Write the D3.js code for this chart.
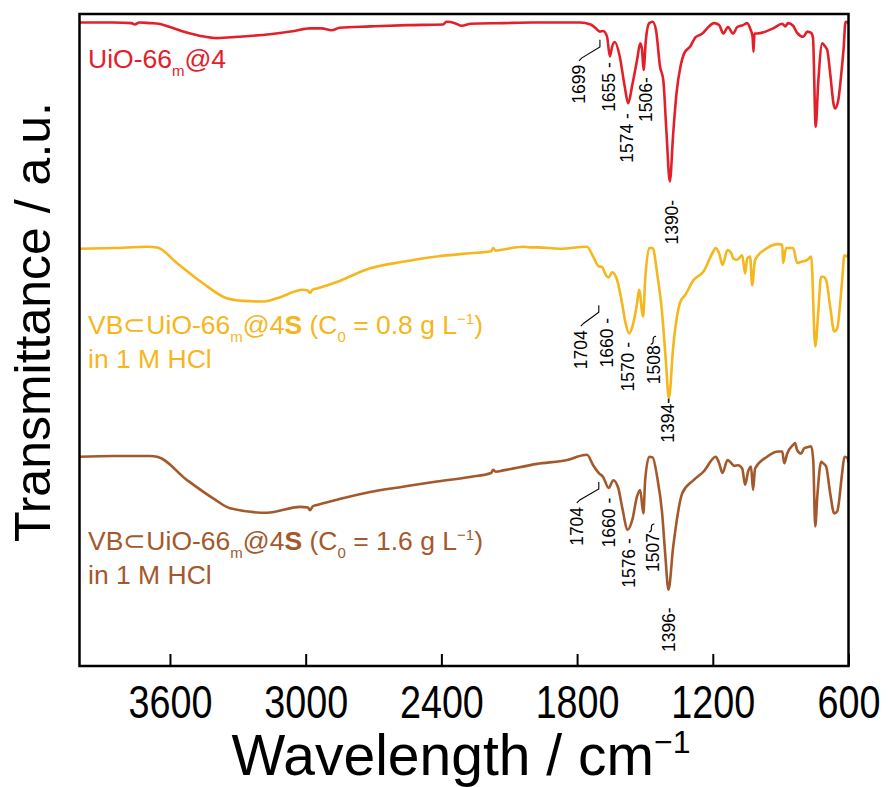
<!DOCTYPE html>
<html>
<head>
<meta charset="utf-8">
<script src="https://cdn.jsdelivr.net/npm/d3@7"></script>
<style>
  html, body { margin: 0; padding: 0; background: #ffffff; }
  svg { display: block; }
</style>
</head>
<body>
<svg id="chart" width="888" height="787"></svg>
<script>
// FT-IR spectra, transmittance in arbitrary units (curves stacked with offsets)
// Each entry: [wavenumber / cm-1, transmittance a.u.]
const uio66 = [
  [4000, 98.7], [3850, 98.7], [3770, 98.6], [3755, 98.4], [3735, 98.7], [3688, 98.6],
  [3650, 98.5], [3600, 98.0], [3530, 97.2], [3460, 96.6], [3392, 96.3], [3300, 96.5],
  [3157, 96.9], [3050, 97.4], [2981, 97.8], [2930, 97.8], [2885, 97.5], [2850, 97.9],
  [2715, 98.1], [2550, 98.3], [2392, 98.4], [2378, 98.8], [2340, 98.6], [2310, 98.2],
  [2270, 98.5], [2127, 98.6], [2000, 98.7], [1876, 98.7], [1787, 98.7], [1740, 98.4],
  [1720, 97.9], [1699, 97.3], [1685, 97.4], [1668, 96.6], [1655, 93.5], [1645, 95.0],
  [1633, 95.7], [1612, 93.6], [1590, 89.0], [1574, 86.3], [1556, 89.1], [1535, 92.9],
  [1521, 95.5], [1513, 94.6], [1506, 91.4], [1496, 96.0], [1481, 98.6], [1466, 98.8],
  [1451, 97.5], [1433, 91.9], [1419, 89.9], [1405, 82.0], [1390, 74.3], [1375, 81.7],
  [1360, 88.0], [1343, 91.9], [1326, 94.0], [1300, 95.0], [1277, 96.4], [1246, 97.0],
  [1225, 97.8], [1194, 98.6], [1172, 98.3], [1153, 97.0], [1133, 98.0], [1110, 97.0],
  [1092, 98.0], [1066, 98.3], [1048, 98.6], [1035, 97.8], [1024, 96.5], [1020, 94.2],
  [1016, 97.0], [1004, 97.0], [933, 97.8], [893, 98.5], [880, 98.1], [867, 98.6],
  [845, 98.2], [827, 97.1], [800, 96.5], [782, 97.3], [765, 97.1], [757, 96.3],
  [745, 82.7], [734, 89.4], [716, 95.5], [703, 95.0], [694, 94.5], [681, 90.9],
  [665, 86.0], [659, 85.5], [645, 86.8], [630, 91.5], [622, 94.5], [613, 98.8],
  [604, 98.7], [600, 98.6]
];

const vbLow = [
  [4000, 64.0], [3850, 64.1], [3700, 64.3], [3657, 64.2], [3569, 61.8], [3454, 58.7],
  [3349, 56.4], [3277, 56.0], [3189, 55.9], [3127, 56.4], [3012, 57.7], [2990, 57.6],
  [2981, 57.2], [2970, 57.7], [2950, 57.9], [2862, 58.9], [2715, 61.0], [2570, 62.0],
  [2420, 62.8], [2273, 63.3], [2180, 63.6], [2171, 64.1], [2160, 63.7], [2140, 63.8],
  [2038, 64.3], [2010, 64.2], [1977, 64.2], [1876, 64.0], [1756, 64.3], [1729, 62.8],
  [1704, 61.3], [1690, 61.2], [1672, 59.9], [1660, 59.6], [1645, 60.4], [1623, 59.2],
  [1601, 55.6], [1585, 52.5], [1570, 51.0], [1556, 52.0], [1535, 55.6], [1526, 57.7],
  [1508, 53.6], [1499, 59.2], [1481, 64.1], [1466, 64.1], [1446, 60.2], [1424, 54.1],
  [1408, 47.0], [1394, 41.1], [1375, 49.0], [1343, 55.9], [1322, 56.9], [1285, 59.2],
  [1241, 60.5], [1202, 63.3], [1187, 64.1], [1172, 63.3], [1157, 61.5], [1135, 63.8],
  [1118, 63.3], [1110, 62.5], [1092, 62.3], [1070, 63.0], [1057, 60.2], [1048, 62.5],
  [1035, 62.8], [1026, 58.4], [1013, 62.3], [960, 64.1], [911, 64.7], [893, 64.6],
  [889, 61.8], [876, 64.1], [845, 64.1], [827, 61.8], [809, 62.0], [782, 62.3],
  [765, 62.8], [747, 49.0], [734, 54.1], [721, 59.7], [712, 59.7], [699, 59.2],
  [681, 55.1], [663, 51.3], [650, 51.8], [628, 59.2], [618, 63.0], [604, 62.8],
  [600, 63.3]
];

const vbHigh = [
  [4000, 32.1], [3850, 32.2], [3688, 32.2], [3657, 32.1], [3524, 28.5], [3409, 25.7],
  [3334, 24.2], [3171, 23.5], [3025, 24.4], [2990, 24.3], [2981, 23.9], [2968, 24.5],
  [2950, 24.7], [2862, 25.5], [2715, 26.7], [2570, 27.5], [2420, 28.3], [2273, 29.0],
  [2180, 29.6], [2171, 30.1], [2160, 29.8], [2127, 30.0], [1977, 31.0], [1831, 31.7],
  [1800, 32.1], [1756, 32.4], [1729, 30.8], [1704, 29.6], [1685, 29.0], [1660, 27.3],
  [1640, 28.5], [1618, 27.3], [1601, 24.4], [1576, 20.9], [1556, 22.4], [1535, 26.0],
  [1521, 27.0], [1507, 23.4], [1499, 28.5], [1481, 32.1], [1466, 32.0], [1446, 29.0],
  [1424, 23.4], [1410, 17.0], [1396, 11.7], [1375, 18.3], [1335, 26.5], [1285, 28.5],
  [1241, 29.8], [1187, 32.1], [1172, 31.1], [1157, 29.6], [1135, 31.6], [1118, 31.1],
  [1105, 30.7], [1088, 30.8], [1070, 30.3], [1057, 27.8], [1044, 29.8], [1031, 30.6],
  [1022, 27.0], [1013, 30.3], [960, 32.1], [911, 32.9], [893, 32.9], [884, 31.1],
  [871, 32.6], [845, 33.9], [836, 34.2], [827, 33.1], [809, 32.6], [796, 33.4],
  [778, 33.6], [765, 33.7], [756, 31.6], [747, 21.4], [738, 26.0], [721, 31.3],
  [712, 31.1], [699, 30.6], [681, 26.5], [663, 23.4], [650, 23.7], [628, 29.6],
  [618, 32.1], [604, 31.9], [600, 31.3]
];

const seriesData = [uio66, vbLow, vbHigh];
const seriesColors = ["#e3202a", "#f6b61d", "#a3592b"];

// Assigned band positions (cm-1) for each spectrum
const peaksUio = [1699, 1655, 1574, 1506, 1390];
const peaksLow = [1704, 1660, 1570, 1508, 1394];
const peaksHigh = [1704, 1660, 1576, 1507, 1396];
const peakSets = [peaksUio, peaksLow, peaksHigh];

// Label placement: leader style, text suffix, label top (a.u.), horizontal shift (px)
const labelStyle = ["elbow", "dash", "dash", "dash", "dash"];
const uioSpacer = ["", " -", " -", "-", "-"];
const lowSpacer = ["", " -", " -", "", "-"];
const highSpacer = ["", " -", " -", "", "-"];
const labelTops = [
  [92.2, 92.6, 84.8, 90.3, 71.5],
  [51.5, 53.4, 49.7, 49.2, 41.1],
  [24.4, 25.8, 19.6, 20.4, 9.0]
];
const labelShift = [
  [-21, -1, -2, 2.5, 1.5],
  [-18, -2.5, -1, 11, -1.5],
  [-22, 0, 0.5, 9, 0]
];

const xTicks = [3600, 3000, 2400, 1800, 1200, 600];

const plot = { left: 79.5, right: 848.5, top: 14, bottom: 666 };

const svg = d3.select("#chart");

const x = d3.scaleLinear().domain([4000, 600]).range([plot.left, plot.right]);
const y = d3.scaleLinear().domain([0, 100]).range([plot.bottom, plot.top]);

const sans = "'Liberation Sans', Arial, Helvetica, sans-serif";

// spectra
const line = d3.line().x(d => x(d[0])).y(d => y(d[1])).curve(d3.curveMonotoneX);

svg.append("defs").append("clipPath").attr("id", "plotClip")
  .append("rect")
  .attr("x", plot.left).attr("y", plot.top)
  .attr("width", plot.right - plot.left).attr("height", plot.bottom - plot.top);

svg.append("g").attr("clip-path", "url(#plotClip)")
  .selectAll("path.spec")
  .data(seriesData)
  .join("path")
  .attr("class", "spec")
  .attr("d", line)
  .attr("fill", "none")
  .attr("stroke", (d, i) => seriesColors[i])
  .attr("stroke-width", 2.6)
  .attr("stroke-linejoin", "round")
  .attr("stroke-linecap", "round");

// frame
svg.append("rect")
  .attr("x", plot.left).attr("y", plot.top)
  .attr("width", plot.right - plot.left).attr("height", plot.bottom - plot.top)
  .attr("fill", "none").attr("stroke", "#000").attr("stroke-width", 2.5);

// bottom axis with inward ticks
const xAxis = d3.axisBottom(x)
  .tickValues(xTicks)
  .tickFormat(d3.format("d"))
  .tickSizeInner(-12)
  .tickSizeOuter(0)
  .tickPadding(19);

const gx = svg.append("g")
  .attr("transform", `translate(0,${plot.bottom})`)
  .call(xAxis);
gx.select(".domain").remove();
gx.selectAll(".tick line").attr("stroke", "#000").attr("stroke-width", 2);
// condensed tick numerals
gx.selectAll(".tick text")
  .attr("fill", "#000")
  .attr("transform", "scale(0.82,1)")
  .style("font-family", sans)
  .style("font-size", "46px");

// axis titles
const xTitle = svg.append("text")
  .attr("x", (plot.left + plot.right) / 2 - 3)
  .attr("y", 775)
  .attr("text-anchor", "middle")
  .style("font-family", sans)
  .style("font-size", "57px")
  .attr("fill", "#000");
xTitle.append("tspan").text("Wavelength / cm");
xTitle.append("tspan").attr("dy", -22).style("font-size", "32px").text("\u22121");

svg.append("text")
  .attr("transform", `translate(50,${(plot.top + plot.bottom) / 2 - 18}) rotate(-90)`)
  .attr("text-anchor", "middle")
  .style("font-family", sans)
  .style("font-size", "50px")
  .attr("fill", "#000")
  .text("Transmittance / a.u.");

// series labels
const labelFont = 26.5;
function seriesLabel(g, xPos, yPos, color, conc) {
  const t = g.append("text")
    .attr("x", xPos).attr("y", yPos)
    .attr("fill", color)
    .style("font-family", sans)
    .style("font-size", labelFont + "px");
  if (conc === null) {
    t.append("tspan").text("UiO-66");
    t.append("tspan").attr("dy", 8).style("font-size", "15px").text("m");
    t.append("tspan").attr("dy", -8).text("@4");
  } else {
    t.append("tspan").text("VB\u2282UiO-66");
    t.append("tspan").attr("dy", 8).style("font-size", "15px").text("m");
    t.append("tspan").attr("dy", -8).text("@4");
    t.append("tspan").style("font-weight", "bold").text("S");
    t.append("tspan").text(" (C");
    t.append("tspan").attr("dy", 8).style("font-size", "15px").text("0");
    t.append("tspan").attr("dy", -8).text(` = ${conc} g L`);
    t.append("tspan").attr("dy", -10).style("font-size", "15px").text("\u22121");
    t.append("tspan").attr("dy", 10).text(")");
    g.append("text")
      .attr("x", xPos).attr("y", yPos + 34)
      .attr("fill", color)
      .style("font-family", sans)
      .style("font-size", labelFont + "px")
      .text("in 1 M HCl");
  }
}
const labels = svg.append("g");
seriesLabel(labels, 88, 68, seriesColors[0], null);
seriesLabel(labels, 88, 334, seriesColors[1], "0.8");
seriesLabel(labels, 88, 550, seriesColors[2], "1.6");

// peak annotations
const annFont = 17.5;
const spacers = [uioSpacer, lowSpacer, highSpacer];
const ann = svg.append("g");
peakSets.forEach((peaks, si) => {
  peaks.forEach((wn, k) => {
    const px = x(wn);
    const cx = px + labelShift[si][k];
    const top = y(labelTops[si][k]);
    const txt = String(wn) + spacers[si][k];
    ann.append("text")
      .attr("transform", `translate(${cx + annFont * 0.36},${top}) rotate(-90)`)
      .attr("text-anchor", "end")
      .style("font-family", sans)
      .style("font-size", annFont + "px")
      .attr("fill", "#000")
      .text(txt);
    if (labelStyle[k] === "elbow") {
      const p = d3.path();
      p.moveTo(cx, top - 4);
      p.lineTo(cx + 3, top - 7);
      p.lineTo(px, top - 18);
      p.lineTo(px, top - 25);
      ann.append("path").attr("d", p.toString())
        .attr("fill", "none").attr("stroke", "#000").attr("stroke-width", 1.1);
    } else if (spacers[si][k] === "") {
      // small hook leader above the label
      const hx = cx - 1;
      const p = d3.path();
      p.moveTo(hx - 2.5, top - 1);
      p.quadraticCurveTo(hx, top - 1, hx, top - 4);
      p.lineTo(hx, top - 6);
      p.quadraticCurveTo(hx, top - 9, hx + 3, top - 9);
      ann.append("path").attr("d", p.toString())
        .attr("fill", "none").attr("stroke", "#000").attr("stroke-width", 1.1);
    }
  });
});
</script>
</body>
</html>
